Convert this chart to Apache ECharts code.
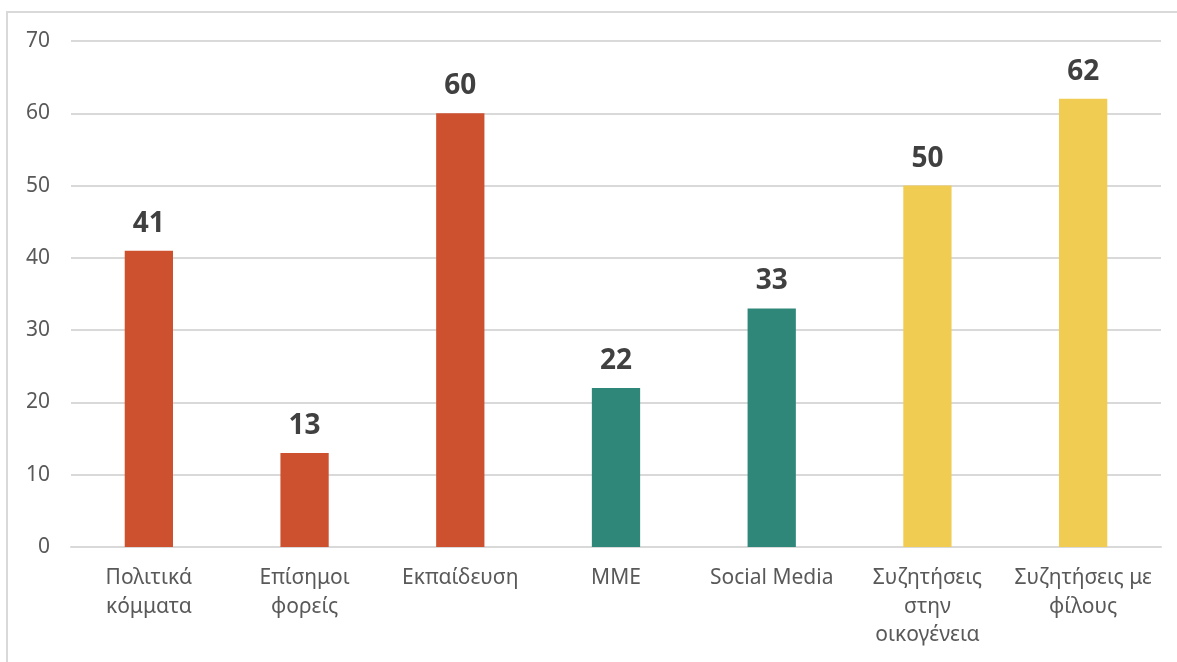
<!DOCTYPE html>
<html>
<head>
<meta charset="utf-8">
<script src="https://cdn.jsdelivr.net/npm/echarts@6/dist/echarts.min.js"></script>
<style>
html,body{margin:0;padding:0;background:#fff;}
#c{width:1177px;height:662px;}
</style>
</head>
<body>
<div id="c"></div>
<script>
const categories = ['Πολιτικά\nκόμματα', 'Επίσημοι\nφορείς', 'Εκπαίδευση', 'ΜΜΕ', 'Social Media', 'Συζητήσεις\nστην\nοικογένεια', 'Συζητήσεις με\nφίλους'];
const values = [41, 13, 60, 22, 33, 50, 62];
const groups = [0, 0, 0, 1, 1, 2, 2];
const yTicks = [0, 10, 20, 30, 40, 50, 60, 70];

const palette = ['#CD502F', '#2F877A', '#F0CD52'];
const font = '"Noto Sans", "Open Sans", sans-serif';

const chart = echarts.init(document.getElementById('c'));
chart.setOption({
  animation: false,
  textStyle: { fontFamily: font },
  graphic: [{
    type: 'rect',
    shape: { x: 7, y: 12, width: 1200, height: 700 },
    style: { fill: 'none', stroke: '#d9d9d9', lineWidth: 2 },
    silent: true
  }],
  grid: { left: 71, right: 16, top: 41, bottom: 115 },
  xAxis: {
    type: 'category',
    data: categories,
    axisLine: { lineStyle: { color: '#d9d9d9', width: 2 } },
    axisTick: { show: false },
    axisLabel: { color: '#595959', fontSize: 21, lineHeight: 28.5, margin: 17, interval: 0, fontFamily: font }
  },
  yAxis: {
    type: 'value',
    min: yTicks[0],
    max: yTicks[yTicks.length - 1],
    interval: 10,
    axisLine: { show: false },
    axisTick: { show: false },
    splitLine: { lineStyle: { color: '#d9d9d9', width: 2 } },
    axisLabel: { color: '#595959', fontSize: 21, margin: 21, fontFamily: font }
  },
  series: [{
    type: 'bar',
    barWidth: '31%',
    data: values.map((v, i) => ({ value: v, itemStyle: { color: palette[groups[i]] } })),
    label: {
      show: true,
      position: 'top',
      distance: 13,
      color: '#404040',
      fontSize: 28,
      fontWeight: 'bold',
      fontFamily: font
    }
  }]
});
</script>
</body>
</html>
